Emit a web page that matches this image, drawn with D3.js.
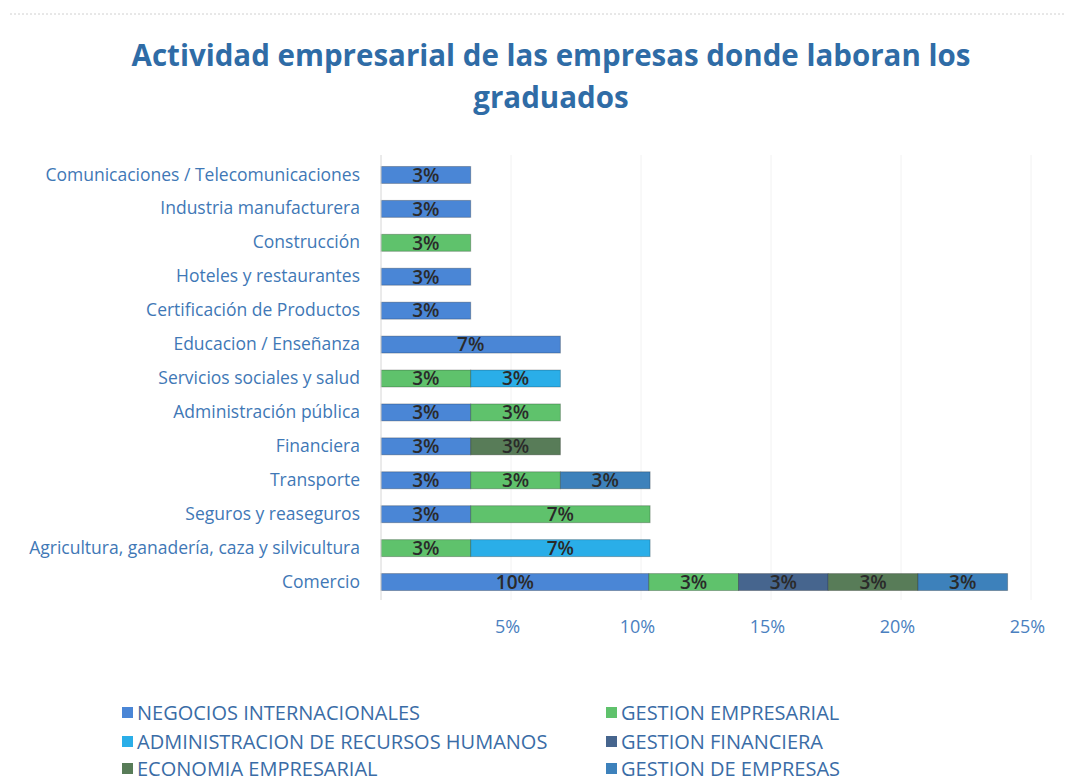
<!DOCTYPE html>
<html>
<head>
<meta charset="utf-8">
<script src="https://cdn.jsdelivr.net/npm/d3@7"></script>
<style>
  body { margin: 0; background: #fff; }
</style>
</head>
<body>
<div id="chart"></div>
<script>
var
  width = 1076,
  height = 783,
  fuente = "'Open Sans', Lato, sans-serif";

// categories top to bottom
var categorias = [
  "Comunicaciones / Telecomunicaciones",
  "Industria manufacturera",
  "Construcción",
  "Hoteles y restaurantes",
  "Certificación de Productos",
  "Educacion / Enseñanza",
  "Servicios sociales y salud",
  "Administración pública",
  "Financiera",
  "Transporte",
  "Seguros y reaseguros",
  "Agricultura, ganadería, caza y silvicultura",
  "Comercio"
];

var programas = [
  "NEGOCIOS INTERNACIONALES",
  "GESTION EMPRESARIAL",
  "ADMINISTRACION DE RECURSOS HUMANOS",
  "GESTION FINANCIERA",
  "ECONOMIA EMPRESARIAL",
  "GESTION DE EMPRESAS"
];

// % per category, one array per program
var negociosInt   = [3.45, 3.45, 0,    3.45, 3.45, 6.9, 0,    3.45, 3.45, 3.45, 3.45, 0,    10.3];
var gestionEmp    = [0,    0,    3.45, 0,    0,    0,   3.45, 3.45, 0,    3.45, 6.9,  3.45, 3.45];
var adminRRHH     = [0,    0,    0,    0,    0,    0,   3.45, 0,    0,    0,    0,    6.9,  0];
var gestionFin    = [0,    0,    0,    0,    0,    0,   0,    0,    0,    0,    0,    0,    3.45];
var economiaEmp   = [0,    0,    0,    0,    0,    0,   0,    0,    3.45, 0,    0,    0,    3.45];
var gestionDeEmp  = [0,    0,    0,    0,    0,    0,   0,    0,    0,    3.45, 0,    0,    3.45];

var ticks = [5, 10, 15, 20, 25];

var colores = ["#4a86d6", "#5fc26c", "#2aaee8", "#46658e", "#587c58", "#3d81bb"];

var series = [negociosInt, gestionEmp, adminRRHH, gestionFin, economiaEmp, gestionDeEmp];
var tabla = categorias.map(function(c, i) {
  var row = { cat: c };
  programas.forEach(function(p, j) { row[p] = series[j][i]; });
  return row;
});

var svg = d3.select("#chart")
  .append("svg")
  .attr("width", width)
  .attr("height", height)
  .attr("font-family", fuente);

// faint dotted line at the top
svg.append("line")
  .attr("x1", 10).attr("x2", 1066)
  .attr("y1", 14).attr("y2", 14)
  .attr("stroke", "#d0d0d0")
  .attr("stroke-dasharray", "2,2");

// title
var titulo = ["Actividad empresarial de las empresas donde laboran los", "graduados"];
svg.append("g").selectAll("text")
  .data(titulo)
  .enter().append("text")
  .attr("x", 551)
  .attr("y", function(d, i) { return 66 + i * 42; })
  .attr("text-anchor", "middle")
  .attr("font-size", 29.5).attr("font-weight", "bold")
  .attr("fill", "#2f6ca6")
  .text(function(d) { return d; });

var x = d3.scaleLinear().domain([0, 25]).range([381, 1031]);
var y = d3.scaleBand().domain(categorias).range([158, 599])
  .paddingInner(0.5).paddingOuter(0.25);

// gridlines
svg.append("g").selectAll("line")
  .data(ticks)
  .enter().append("line")
  .attr("x1", function(d) { return x(d); })
  .attr("x2", function(d) { return x(d); })
  .attr("y1", 155).attr("y2", 600)
  .attr("stroke", "#f2f2f2");

// stacked bars
var stack = d3.stack().keys(programas)(tabla);

var capas = svg.append("g").selectAll("g")
  .data(stack)
  .enter().append("g")
  .attr("fill", function(d, i) { return colores[i]; });

capas.selectAll("rect")
  .data(function(d) { return d.filter(function(s) { return s[1] - s[0] > 0; }); })
  .enter().append("rect")
  .attr("x", function(d) { return x(d[0]); })
  .attr("y", function(d) { return y(d.data.cat); })
  .attr("width", function(d) { return x(d[1]) - x(d[0]); })
  .attr("height", y.bandwidth())
  .attr("stroke", "rgba(0,0,0,0.25)")
  .attr("stroke-width", 1);

capas.selectAll("text")
  .data(function(d) { return d.filter(function(s) { return s[1] - s[0] > 0; }); })
  .enter().append("text")
  .attr("x", function(d) { return (x(d[0]) + x(d[1])) / 2; })
  .attr("y", function(d) { return y(d.data.cat) + y.bandwidth() / 2; })
  .attr("dy", "0.36em")
  .attr("text-anchor", "middle")
  .attr("font-size", 19)
  .attr("font-weight", 600)
  .attr("fill", "#2a2a2a")
  .text(function(d) { return Math.round(d[1] - d[0]) + "%"; });

// y axis
var yAxis = svg.append("g")
  .attr("transform", "translate(381,0)")
  .call(d3.axisLeft(y).tickSize(0).tickPadding(21));
yAxis.select(".domain").attr("stroke", "#d6d6d6").attr("d", "M0,155V600");
yAxis.selectAll("text")
  .attr("font-family", fuente)
  .attr("font-size", 17.5)
  .attr("fill", "#3f78b6");

// x axis labels
var xAxis = svg.append("g")
  .attr("transform", "translate(-4,617)")
  .call(d3.axisBottom(x).tickValues(ticks).tickSize(0)
    .tickFormat(function(d) { return d + "%"; }));
xAxis.select(".domain").remove();
xAxis.selectAll("text")
  .attr("font-family", fuente)
  .attr("font-size", 18)
  .attr("fill", "#4a80c0");

// legend
var legendPos = [
  [122, 713], [606, 713],
  [122, 742], [606, 742],
  [122, 769], [606, 769]
];
var leyenda = svg.append("g").selectAll("g")
  .data(programas)
  .enter().append("g")
  .attr("transform", function(d, i) { return "translate(" + legendPos[i][0] + "," + legendPos[i][1] + ")"; });
leyenda.append("rect")
  .attr("x", 0).attr("y", -6)
  .attr("width", 11).attr("height", 11)
  .attr("fill", function(d, i) { return colores[i]; });
leyenda.append("text")
  .attr("x", 15).attr("y", 0)
  .attr("dy", "0.35em")
  .attr("font-size", 20)
  .attr("fill", "#3a6ca6")
  .text(function(d) { return d; });
</script>
</body>
</html>
